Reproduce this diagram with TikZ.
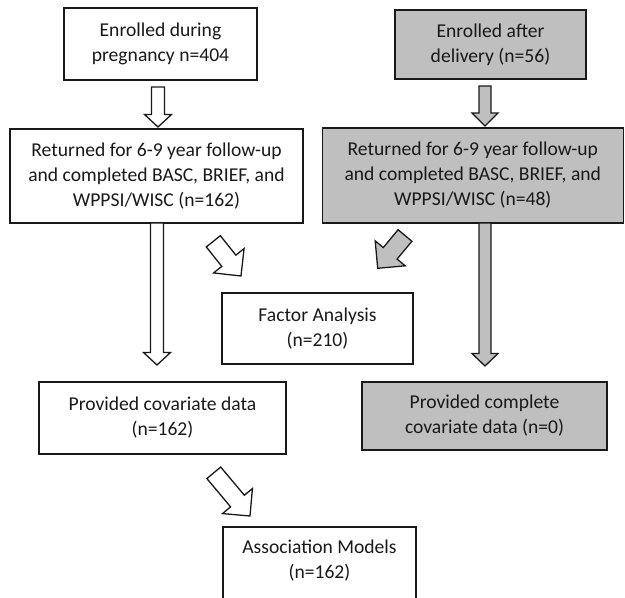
\documentclass[tikz,border=0pt]{standalone}
\usepackage{fontspec}
\setmainfont{Carlito}
\usetikzlibrary{calc}
\definecolor{boxgray}{RGB}{191,191,191}
\definecolor{ink}{RGB}{25,25,25}

% Hollow block arrow from #2 to #3: style #1, shaft half-width #4,
% head half-width #5, head length #6.
\newcommand\blockarrow[6]{%
  \coordinate (ah) at ($(#3)!#6!(#2)$);
  \draw[#1] ($(#2)!#4!90:(#3)$) -- ($(ah)!#4!90:(#3)$) -- ($(ah)!#5!90:(#3)$) -- (#3)
    -- ($(ah)!#5!-90:(#3)$) -- ($(ah)!#4!-90:(#3)$) -- ($(#2)!#4!-90:(#3)$) -- cycle;}

\tikzset{
  box/.style={draw=ink, line width=1.3pt, rectangle, inner sep=0pt, align=center,
    text=ink, font=\fontsize{19.6}{25}\selectfont},
  graybox/.style={box, fill=boxgray},
  txt/.style={inner sep=0pt, align=center, text=ink, font=\fontsize{19.6}{25}\selectfont},
  whitearrow/.style={draw=ink, line width=1.3pt, fill=white, line join=miter},
  grayarrow/.style={draw=ink, line width=1.3pt, fill=boxgray, line join=miter},
}

\begin{document}
\begin{tikzpicture}[x=1pt, y=-1pt]
  \clip (0,0) rectangle (625,598);

  % boxes
  \node[box, minimum width=193pt, minimum height=72pt] (preg) at (160.5,44)
    {Enrolled during\\pregnancy n=404};
  \node[graybox, minimum width=191pt, minimum height=69pt] (deliv) at (490.5,44.5)
    {Enrolled after\\delivery (n=56)};
  \node[box, minimum width=293pt, minimum height=94pt] (retL) at (156.5,176)
    {Returned for 6-9 year follow-up\\and completed BASC, BRIEF, and\\WPPSI/WISC (n=162)};
  \node[graybox, minimum width=301pt, minimum height=95pt] (retR) at (472.8,175.5)
    {Returned for 6-9 year follow-up\\and completed BASC, BRIEF, and\\WPPSI/WISC (n=48)};
  \node[box, minimum width=191pt, minimum height=71pt] (factor) at (317.5,328.5)
    {Factor Analysis\\(n=210)};
  \node[box, minimum width=247pt, minimum height=72pt] (cov) at (162.5,418)
    {Provided covariate data\\(n=162)};
  \node[graybox, minimum width=245pt, minimum height=68pt] (comp) at (484.5,416)
    {Provided complete\\covariate data (n=0)};
  \node[box, minimum width=193pt, minimum height=80pt] (assoc) at (319.5,567) {};
  \node[txt] (assoctext) at (319.5,560.5) {Association Models\\(n=162)};

  % arrow ends
  \coordinate (a1s) at (158,87);    \coordinate (a1e) at (158,127);
  \coordinate (a2s) at (485,86);    \coordinate (a2e) at (485,126);
  \coordinate (a3s) at (157,223);   \coordinate (a3e) at (157,365);
  \coordinate (a4s) at (485,223);   \coordinate (a4e) at (485,366);
  \coordinate (d1s) at (213.3,241.3); \coordinate (d1e) at (241,276);
  \coordinate (d2s) at (405,235.5);   \coordinate (d2e) at (377.7,268.3);
  \coordinate (d3s) at (213.8,472.8); \coordinate (d3e) at (250,516);

  % vertical arrows
  \blockarrow{whitearrow}{a1s}{a1e}{6.5pt}{13.5pt}{12.5pt}
  \blockarrow{grayarrow}{a2s}{a2e}{6pt}{13pt}{13pt}
  \blockarrow{whitearrow}{a3s}{a3e}{6.5pt}{13.5pt}{12.5pt}
  \blockarrow{grayarrow}{a4s}{a4e}{6pt}{13pt}{12.5pt}

  % diagonal arrows
  \blockarrow{whitearrow}{d1s}{d1e}{9pt}{19.5pt}{19.5pt}
  \blockarrow{grayarrow}{d2s}{d2e}{9pt}{19.5pt}{19.5pt}
  \blockarrow{whitearrow}{d3s}{d3e}{9pt}{19.5pt}{19.5pt}
\end{tikzpicture}
\end{document}
